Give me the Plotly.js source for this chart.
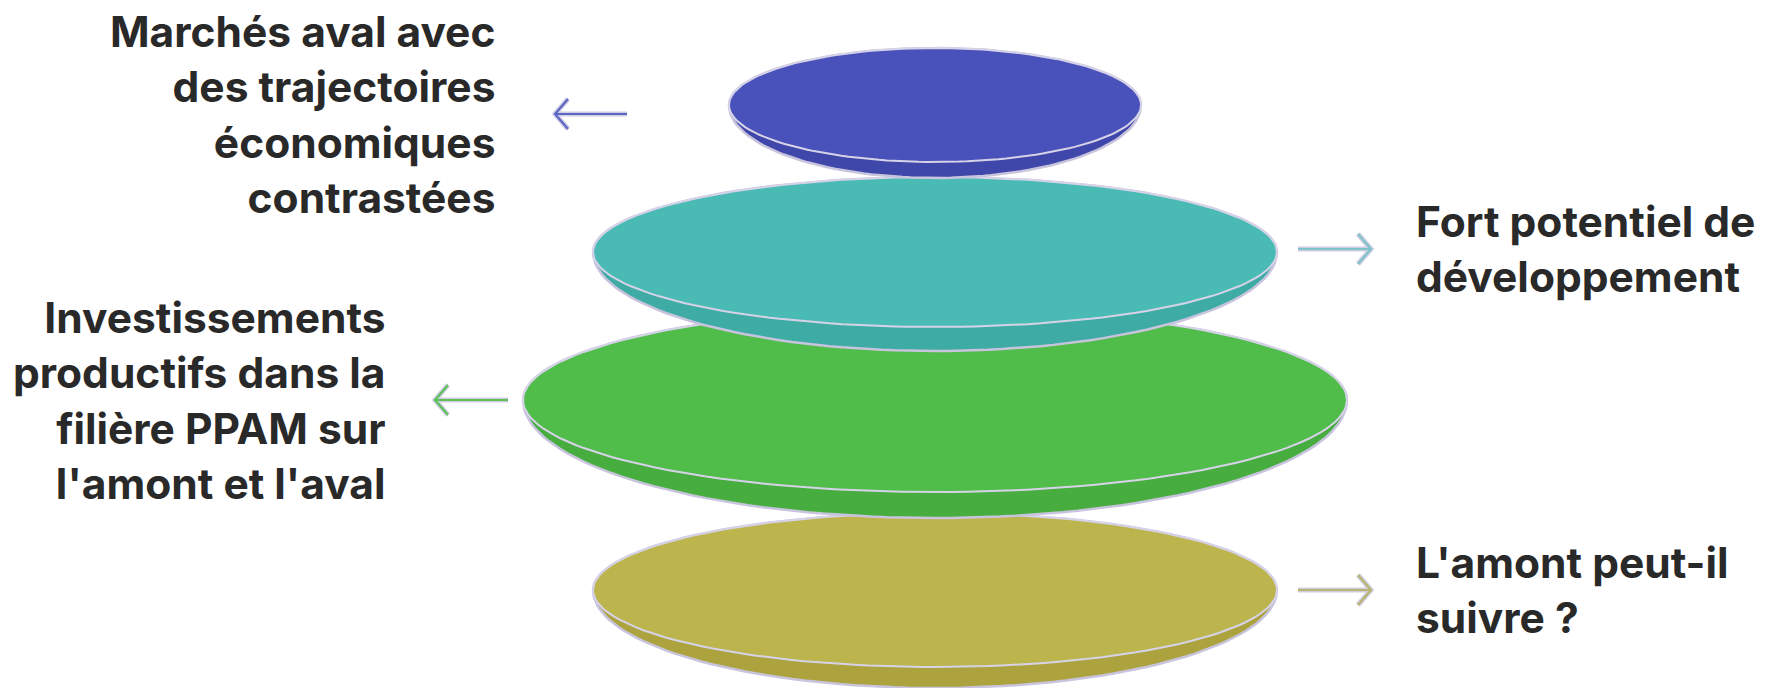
<!DOCTYPE html>
<html>
<head>
<meta charset="utf-8">
<script src="https://cdn.plot.ly/plotly-3.0.1.min.js"></script>
<style>
  html, body { margin: 0; padding: 0; background: #ffffff; }
  #chart { width: 1766px; height: 688px; }
</style>
</head>
<body>
<div id="chart"></div>
<script>
// ---- data ----
const layerLabels = [
  "Marchés aval avec<br>des trajectoires<br>économiques<br>contrastées",
  "Fort potentiel de<br>développement",
  "Investissements<br>productifs dans la<br>filière PPAM sur<br>l'amont et l'aval",
  "L'amont peut-il<br>suivre ?"
];
const layerValues = [50, 83, 100, 83];           // relative disc widths (top to bottom)
const layerColors = ["#4951BA", "#4ABBB4", "#50BC4A", "#BCB44C"];
const sideColors  = ["#3F47AA", "#3EACA5", "#47AD3E", "#ADA33E"];
const arrowColors = ["#5E66C4", "#7FC3C6", "#5CC056", "#B9B46E"];

// ---- layout geometry (pixel space of a 1766x688 canvas) ----
const W = 1766, H = 688;
const centerX = 935;
const unitPx = 4.12;
const discCY = [105, 252, 400, 590];
const discRY = [57, 75, 92, 77];
const discT  = [16, 24, 26, 21];
const labelSide = ["left", "right", "left", "right"];
const arrowY = [114, 249, 400, 590];
const arrowFrom = [627, 1298, 508, 1298];
const arrowTo   = [555, 1371, 435, 1371];
const labelX = [497, 1414, 387, 1414];
const outline = "#C8C4DE";
const faceLine = "#D6D3E8";

const traces = [];
const N = 160;

function ellipse(cx, cy, rx, ry) {
  const xs = [], ys = [];
  for (let i = 0; i <= N; i++) {
    const a = 2 * Math.PI * i / N;
    xs.push(cx + rx * Math.cos(a));
    ys.push(cy + ry * Math.sin(a));
  }
  return {xs, ys};
}
function silhouette(cx, cy, rx, ry, t) {
  const xs = [], ys = [];
  for (let i = 0; i <= N / 2; i++) {          // upper half, left -> right
    const a = Math.PI - Math.PI * i / (N / 2);
    xs.push(cx + rx * Math.cos(a));
    ys.push(cy - ry * Math.sin(a));
  }
  for (let i = 0; i <= N / 2; i++) {          // deeper lower half, right -> left
    const a = Math.PI * i / (N / 2);
    xs.push(cx + rx * Math.cos(a));
    ys.push(cy + (ry + t) * Math.sin(a));
  }
  return {xs, ys};
}

// draw bottom layer first so upper discs overlap the ones below
for (let k = layerValues.length - 1; k >= 0; k--) {
  const rx = layerValues[k] * unitPx;
  const s = silhouette(centerX, discCY[k], rx, discRY[k], discT[k]);
  traces.push({
    type: "scatter", mode: "lines", x: s.xs, y: s.ys,
    fill: "toself", fillcolor: sideColors[k],
    line: {color: outline, width: 2.5}, hoverinfo: "skip", showlegend: false
  });
  const e = ellipse(centerX, discCY[k], rx, discRY[k]);
  traces.push({
    type: "scatter", mode: "lines", x: e.xs, y: e.ys,
    fill: "toself", fillcolor: layerColors[k],
    line: {color: faceLine, width: 2}, hoverinfo: "skip", showlegend: false
  });
}

// arrows
for (let k = 0; k < layerValues.length; k++) {
  const x0 = arrowFrom[k], x1 = arrowTo[k], y = arrowY[k];
  const dir = x1 > x0 ? 1 : -1;
  const hx = x1 - dir * 13;
  const ax = [x0, x1, null, hx, x1, hx];
  const ay = [y, y, null, y - 15, y, y + 15];
  traces.push({type: "scatter", mode: "lines", x: ax, y: ay,
    line: {color: "#CFCDE3", width: 5}, hoverinfo: "skip", showlegend: false});
  traces.push({type: "scatter", mode: "lines", x: ax, y: ay,
    line: {color: arrowColors[k], width: 2.2}, hoverinfo: "skip", showlegend: false});
}

const annotations = layerLabels.map((txt, k) => ({
  text: txt,
  x: labelX[k], y: arrowY[k],
  xref: "x", yref: "y",
  xanchor: labelSide[k] === "left" ? "right" : "left",
  yanchor: "middle",
  align: labelSide[k] === "left" ? "right" : "left",
  showarrow: false,
  font: {family: "Inter, 'Noto Sans', sans-serif", size: 42.5, color: "#292929", weight: 700}
}));

const layout = {
  width: W, height: H,
  margin: {l: 0, r: 0, t: 0, b: 0},
  paper_bgcolor: "#ffffff", plot_bgcolor: "#ffffff",
  xaxis: {range: [0, W], visible: false, fixedrange: true},
  yaxis: {range: [H, 0], visible: false, fixedrange: true},
  annotations: annotations,
  showlegend: false,
  hovermode: false
};

Plotly.newPlot("chart", traces, layout, {displayModeBar: false, staticPlot: true});
</script>
</body>
</html>
